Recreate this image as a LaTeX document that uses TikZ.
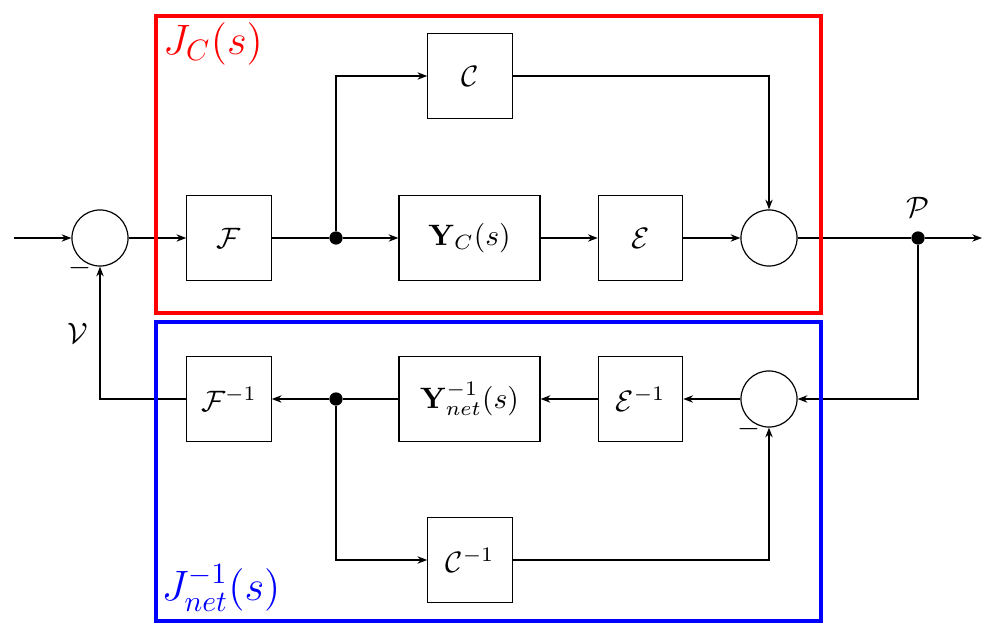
\documentclass[tikz,border=0pt]{standalone}
\usepackage{amsmath}
\usetikzlibrary{arrows.meta}
\begin{document}
\begin{tikzpicture}[x=0.3388pt,y=-0.3388pt,
  blk/.style={draw,line width=0.4pt,minimum width=28.6pt,minimum height=29pt,inner sep=0pt},
  wblk/.style={blk,minimum width=47.8pt},
  sumc/.style={draw,circle,line width=0.4pt,minimum size=19pt,inner sep=0pt},
  dotn/.style={fill,circle,minimum size=4.5pt,inner sep=0pt},
  conn/.style={line width=0.4pt},
  arr/.style={conn,-{Stealth[length=3.3pt,width=2.5pt]}},
  frame/.style={line width=1.25pt}]
\useasboundingbox (0,0) rectangle (996,637);
% upper path
\coordinate (in) at (14,238);
\node[sumc] (s1) at (100,238) {};
\node[blk] (F) at (229,238) {$\mathcal{F}$};
\node[dotn] (d1) at (336,238) {};
\node[blk] (C) at (470,76) {$\mathcal{C}$};
\node[wblk] (Y) at (469.5,238) {$\mathbf{Y}_C(s)$};
\node[blk] (E) at (640.5,238) {$\mathcal{E}$};
\node[sumc] (s2) at (769,238) {};
\node[dotn] (dP) at (918,238) {};
\coordinate (out) at (982,238);
% lower path
\node[sumc] (s3) at (769,399) {};
\node[blk] (Ei) at (640.5,399) {$\mathcal{E}^{-1}$};
\node[wblk] (Yi) at (469.5,399) {$\mathbf{Y}_{net}^{-1}(s)$};
\node[dotn] (d2) at (336,399) {};
\node[blk] (Fi) at (229,399) {$\mathcal{F}^{-1}$};
\node[blk] (Ci) at (470,560) {$\mathcal{C}^{-1}$};
% labels
\node (m1) at (80,268) {$-$};
\node (m3) at (749,429) {$-$};
\node (V) at (78,333) {$\mathcal{V}$};
\node (P) at (918,207) {$\mathcal{P}$};
% connectors
\draw[arr] (in) -- (s1.west);
\draw[arr] (s1.east) -- (F.west);
\draw[conn] (F.east) -- (d1);
\draw[arr] (d1) -- (Y.west);
\draw[arr] (d1) |- (C.west);
\draw[arr] (Y.east) -- (E.west);
\draw[arr] (E.east) -- (s2.west);
\draw[arr] (C.east) -| (s2.north);
\draw[conn] (s2.east) -- (dP);
\draw[arr] (dP) -- (out);
\draw[arr] (dP) |- (s3.east);
\draw[arr] (s3.west) -- (Ei.east);
\draw[arr] (Ei.west) -- (Yi.east);
\draw[conn] (Yi.west) -- (d2);
\draw[arr] (d2) -- (Fi.east);
\draw[arr] (d2) |- (Ci.west);
\draw[arr] (Ci.east) -| (s3.south);
\draw[arr] (Fi.west) -| (s1.south);
% frames
\draw[frame,red] (156,16) rectangle (821,313);
\draw[frame,blue] (156,322) rectangle (821,621);
\node[red,font=\Large] (JC) at (213,44) {$J_C(s)$};
\node[blue,font=\Large] (JN) at (221,588) {$J_{net}^{-1}(s)$};
\end{tikzpicture}
\end{document}
